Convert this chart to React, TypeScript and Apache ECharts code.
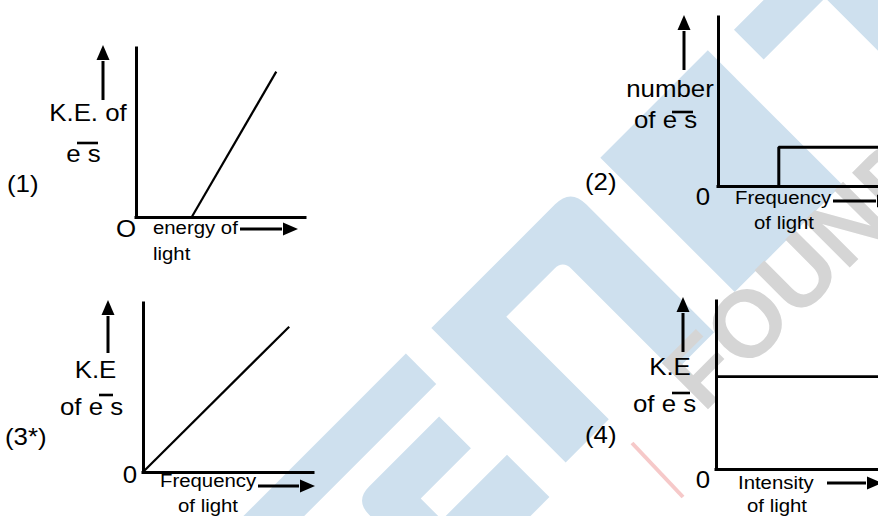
import React, { useEffect, useRef } from "react";
import * as echarts from "echarts";

// Curves of the four panels, both axes on a 0..10 scale
const keVsEnergy = [[3.3, 0], [8.3, 8.6]];
const countVsFrequency = [[3.8, 0], [3.8, 2.3], [10, 2.3]];
const keVsFrequency = [[0, 0], [8.6, 8.6]];
const keVsIntensity = [[0, 5.5], [10, 5.5]];

const panelTags = ["(1)", "(2)", "(3*)", "(4)"];
const yTitles = [["K.E. of", "e s"], ["number", "of e s"], ["K.E", "of e s"], ["K.E", "of e s"]];
const xTitles = [["energy of", "light"], ["Frequency", "of light"], ["Frequency", "of light"], ["Intensity", "of light"]];
const originMarks = ["O", "0", "0", "0"];
const seriesData = [keVsEnergy, countVsFrequency, keVsFrequency, keVsIntensity];

const FONT = 'Arial, "Liberation Sans", sans-serif';
const INK = "#000";
const BIG = 23.5;
const SMALL = 18.5;

// Panel placement on the page
const layout = [
  {
    grid: { left: 136, top: 48, width: 169, height: 169 }, lw: 2.2,
    tag: [7, 183.8], y1: [88, 112.8], y2: [83.5, 153.8], bar: [77, 98, 143],
    origin: [126, 228.8], x1: [153, 227.6, "left"], x2: [153, 253.6, "left"],
    up: { x: 103, y0: 100, tip: 45 }, right: { y: 229, x0: 240, tip: 298 },
  },
  {
    grid: { left: 718, top: 17, width: 170, height: 169 }, lw: 3,
    tag: [585, 182], y1: [670, 88.8], y2: [665.5, 119.8], bar: [672, 693, 112],
    origin: [703, 196.8], x1: [735, 196.9, "left"], x2: [784, 221.9, "center"],
    up: { x: 684, y0: 70, tip: 15 }, right: { y: 201, x0: 833, tip: 892 },
  },
  {
    grid: { left: 143, top: 303, width: 170, height: 169 }, lw: 2.2,
    tag: [5, 436.8], y1: [95.5, 369.8], y2: [91.5, 406.8], bar: [99, 113, 395],
    origin: [130, 474.8], x1: [160, 480.6, "left"], x2: [208, 505.5, "center"],
    up: { x: 108, y0: 353, tip: 300 }, right: { y: 486, x0: 258, tip: 315 },
  },
  {
    grid: { left: 716, top: 301, width: 170, height: 168 }, lw: 2.6,
    tag: [585, 434.8], y1: [670, 366.8], y2: [664.5, 403.8], bar: [672, 690, 393],
    origin: [703, 479.8], x1: [738, 481.9, "left"], x2: [777, 505.5, "center"],
    up: { x: 683, y0: 352, tip: 297 }, right: { y: 483, x0: 827, tip: 882 },
  },
];

function label(text: string, x: number, y: number, size: number, align = "center") {
  return {
    type: "text", x, y, scaleX: 1.1, z: 20, silent: true,
    style: {
      text, x: 0, y: 0, fill: INK, font: `${size}px ${FONT}`,
      textAlign: align, align, textVerticalAlign: "middle", verticalAlign: "middle",
    },
  };
}

function segment(x1: number, y1: number, x2: number, y2: number, w: number, color = INK, z = 20) {
  return { type: "line", z, silent: true, shape: { x1, y1, x2, y2 }, style: { stroke: color, lineWidth: w } };
}

function upArrow(a: { x: number; y0: number; tip: number }) {
  const base = a.tip + 15;
  return [
    segment(a.x, a.y0, a.x, base + 1, 3),
    { type: "polygon", z: 20, silent: true, shape: { points: [[a.x, a.tip], [a.x - 6.5, base], [a.x + 6.5, base]] }, style: { fill: INK } },
  ];
}

function rightArrow(a: { y: number; x0: number; tip: number }) {
  const base = a.tip - 15;
  return [
    segment(a.x0, a.y, base - 1, a.y, 3),
    { type: "polygon", z: 20, silent: true, shape: { points: [[a.tip, a.y], [base, a.y - 6.5], [base, a.y + 6.5]] }, style: { fill: INK } },
  ];
}

// Background logo: strips laid out on a frame turned by 45 degrees
const R = Math.SQRT1_2;
const toScreen = (u: number, v: number) => [(u + v) * R, (u - v) * R];

function roundedPoints(pts: number[][]) {
  const out: number[][] = [];
  const n = pts.length;
  for (let i = 0; i < n; i++) {
    const [u, v, r] = pts[i];
    if (!r) { out.push(toScreen(u, v)); continue; }
    const p = pts[(i - 1 + n) % n];
    const q = pts[(i + 1) % n];
    const d1 = Math.hypot(p[0] - u, p[1] - v);
    const d2 = Math.hypot(q[0] - u, q[1] - v);
    const a = [u + ((p[0] - u) / d1) * r, v + ((p[1] - v) / d1) * r];
    const b = [u + ((q[0] - u) / d2) * r, v + ((q[1] - v) / d2) * r];
    for (let k = 0; k <= 8; k++) {
      const t = k / 8;
      const cu = (1 - t) * (1 - t) * a[0] + 2 * t * (1 - t) * u + t * t * b[0];
      const cv = (1 - t) * (1 - t) * a[1] + 2 * t * (1 - t) * v + t * t * b[1];
      out.push(toScreen(cu, cv));
    }
  }
  return out;
}

const logoStrips = [
  [[537, -420], [537, 37], [580, 37], [580, -420]],
  [[605, -103, 20], [605, 16], [650, 16], [650, -55], [820, -55], [820, -103]],
  [[680, -320], [680, 37], [740, 37], [740, -320]],
  [[537, 73], [537, 270, 22], [740, 270], [740, 214], [582, 214, 12], [582, 134], [727, 134], [727, 73]],
  [[536, 313], [536, 465], [726, 465], [726, 313]],
  [[540, 498], [540, 760], [726, 760], [726, 585], [582, 585], [582, 498]],
];

function buildGraphics() {
  const els: any[] = [];
  logoStrips.forEach((s) => {
    els.push({ type: "polygon", z: 0, silent: true, shape: { points: roundedPoints(s) }, style: { fill: "#cee0ee" } });
  });
  const [fx, fy] = toScreen(757, 205);
  els.push({
    type: "text", x: fx, y: fy, rotation: Math.PI / 4, z: 1, silent: true,
    style: {
      text: "FOUNDATION", x: 0, y: 0, fill: "#d5d5d5", font: `bold 95px ${FONT}`,
      textAlign: "left", align: "left", textVerticalAlign: "middle", verticalAlign: "middle",
    },
  });
  els.push(segment(632, 443, 683, 497, 4, "#f6c9c9", 1));

  layout.forEach((p, i) => {
    els.push(label(panelTags[i], p.tag[0], p.tag[1], BIG, "left"));
    els.push(label(yTitles[i][0], p.y1[0], p.y1[1], BIG));
    els.push(label(yTitles[i][1], p.y2[0], p.y2[1], BIG));
    els.push(segment(p.bar[0], p.bar[2], p.bar[1], p.bar[2], 2.6));
    els.push(label(originMarks[i], p.origin[0], p.origin[1], BIG));
    els.push(label(xTitles[i][0], p.x1[0] as number, p.x1[1] as number, SMALL, p.x1[2] as string));
    els.push(label(xTitles[i][1], p.x2[0] as number, p.x2[1] as number, SMALL, p.x2[2] as string));
    els.push(...upArrow(p.up));
    els.push(...rightArrow(p.right));
  });
  return els;
}

function buildOption() {
  const axisBase = {
    type: "value", min: 0, max: 10, z: 5,
    axisLine: { show: true, onZero: false, lineStyle: { color: INK, width: 3, cap: "square" } },
    axisTick: { show: false }, axisLabel: { show: false }, splitLine: { show: false },
  };
  return {
    animation: false,
    backgroundColor: "#ffffff",
    grid: layout.map((p) => ({ ...p.grid, containLabel: false })),
    xAxis: layout.map((_, i) => ({ ...axisBase, gridIndex: i })),
    yAxis: layout.map((_, i) => ({ ...axisBase, gridIndex: i })),
    series: seriesData.map((d, i) => ({
      type: "line", xAxisIndex: i, yAxisIndex: i, data: d, z: 6,
      symbol: "none", silent: true, clip: false,
      lineStyle: { color: INK, width: layout[i].lw },
    })),
    graphic: { elements: buildGraphics() },
  };
}

export default function App() {
  const ref = useRef<HTMLDivElement>(null);
  useEffect(() => {
    if (!ref.current) return;
    const chart = echarts.init(ref.current, null, { renderer: "svg" });
    chart.setOption(buildOption() as any);
    return () => chart.dispose();
  }, []);
  return (
    <div
      ref={ref}
      style={{ position: "fixed", left: 0, top: 0, width: 878, height: 516, background: "#fff" }}
    />
  );
}
